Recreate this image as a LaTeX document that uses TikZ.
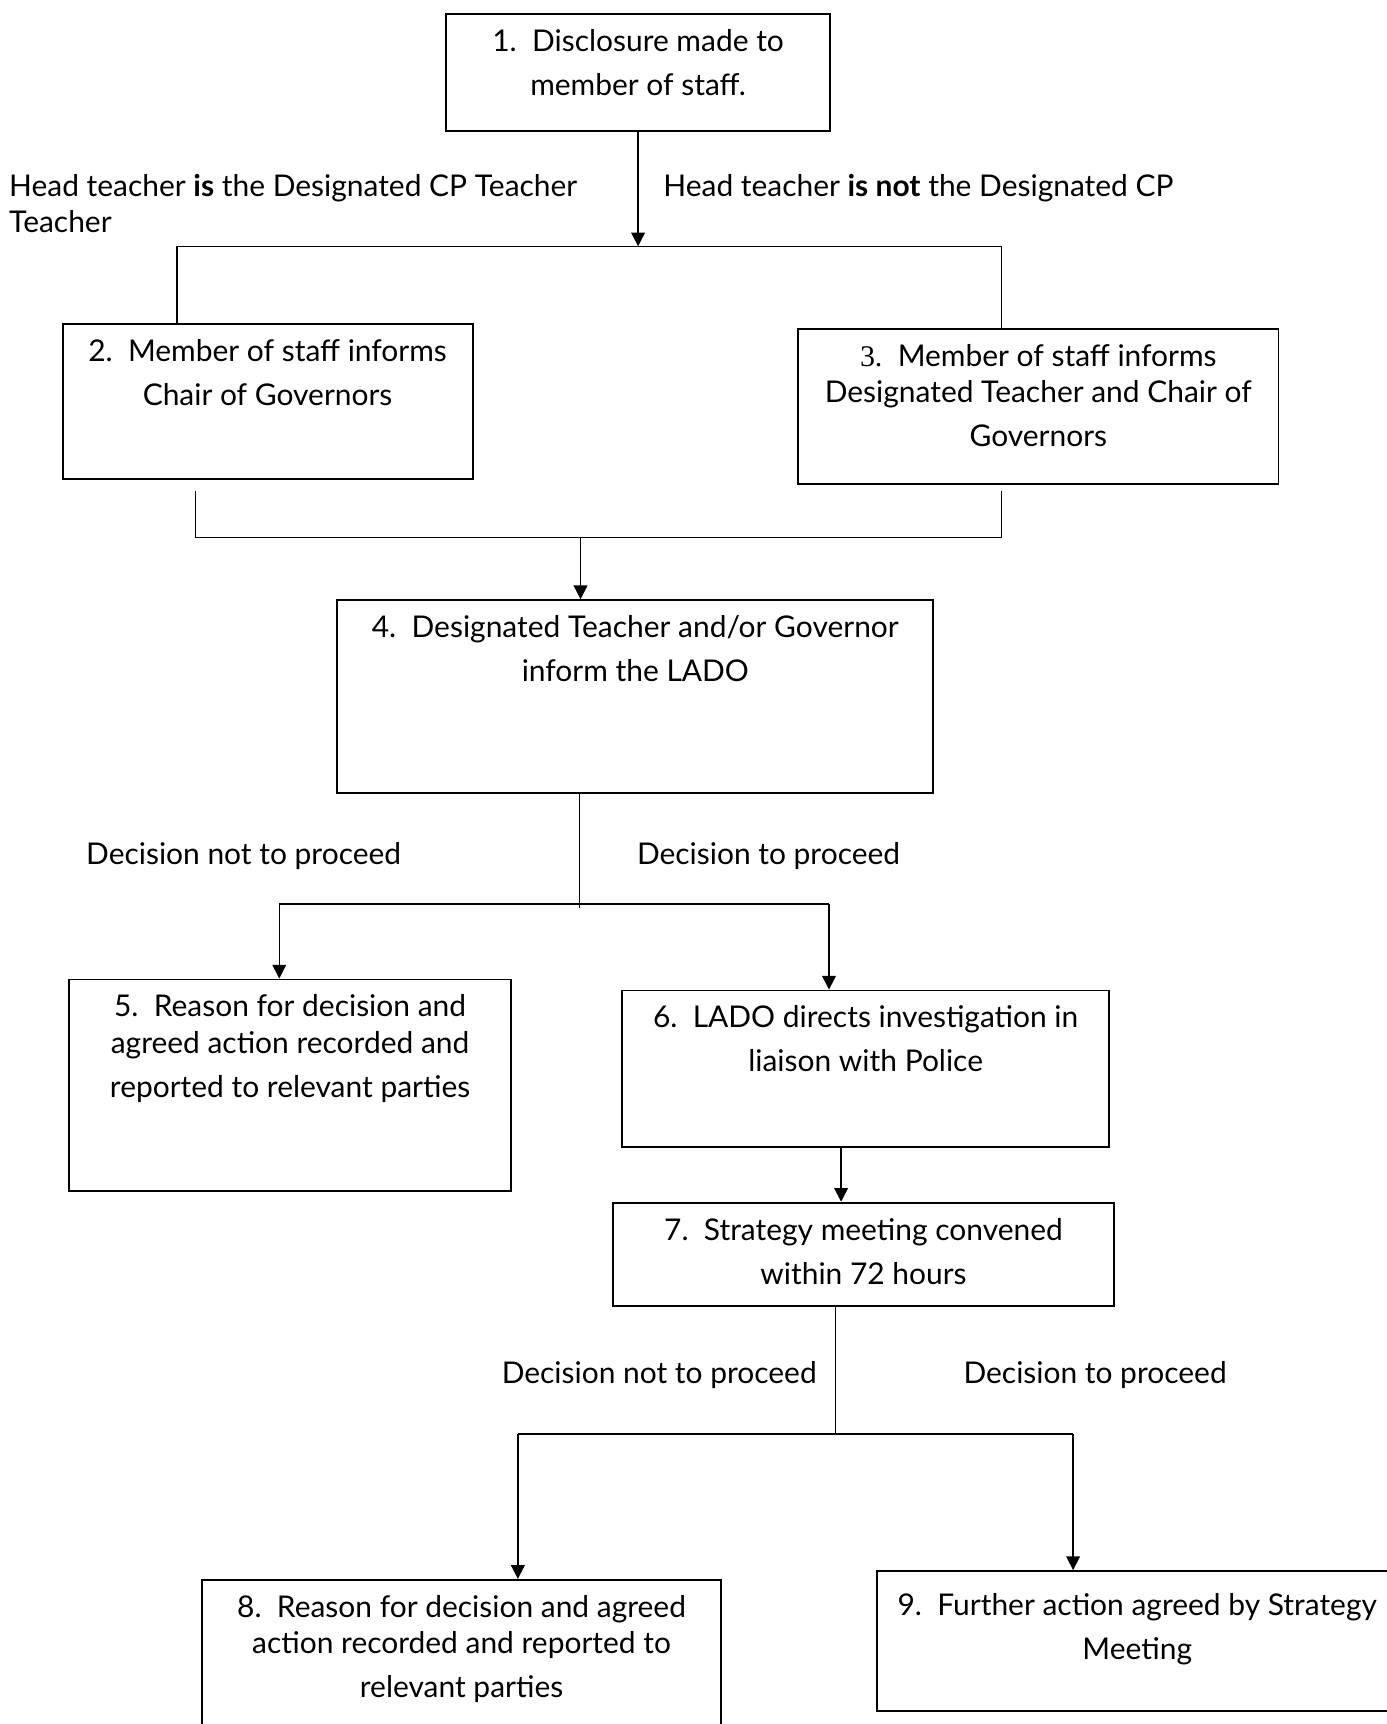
\documentclass[tikz,border=0pt]{standalone}
\usepackage{fontspec}
\setmainfont{Lato}
\newfontfamily\numfont{Liberation Serif}
\usetikzlibrary{positioning}
\usetikzlibrary{arrows.meta}
\newcommand{\flowfont}{\fontsize{15.5pt}{22.8pt}\selectfont}

\begin{document}
\begin{tikzpicture}[
    x = 0.02cm, y = -0.02cm
    , box/.style = {
      , rectangle
      , draw = black
      , line width = 1pt
      , anchor = north west
      , inner sep = 0pt
    }
    , txt/.style = {
      , align = center
      , inner sep = 0pt
      , font = \flowfont
    }
    , lbl/.style = {
      , align = left
      , inner sep = 0pt
      , anchor = north west
      , font = \flowfont
    }
    , link/.style = {
      , draw = black
      , line width = 0.8pt
    }
    , arr/.style = {
      link,
      -{Triangle[length=0.25cm, width=0.25cm]}
    }
    , node distance = 0.29cm
    ]
    \useasboundingbox (0,0) rectangle (1261,1568);

    % boxes
    \node[box, minimum width=6.98cm, minimum height=2.12cm] (b1) at (405,12) {};
    \node[box, minimum width=7.46cm, minimum height=2.82cm] (b2) at (56,294) {};
    \node[box, minimum width=8.74cm, minimum height=2.82cm] (b3) at (725,298) {};
    \node[box, minimum width=10.84cm, minimum height=3.50cm] (b4) at (306,545) {};
    \node[box, minimum width=8.04cm, minimum height=3.84cm] (b5) at (62,890) {};
    \node[box, minimum width=8.86cm, minimum height=2.84cm] (b6) at (565,900) {};
    \node[box, minimum width=9.10cm, minimum height=1.88cm] (b7) at (557,1093) {};
    \node[box, minimum width=9.44cm, minimum height=3.20cm] (b8) at (183,1436) {};
    \node[box, minimum width=9.46cm, minimum height=2.54cm] (b9) at (797,1428) {};

    \node[txt, below=of b1.north] (t1) {1.\ \ Disclosure made to\\member of staff.};
    \node[txt, below=of b2.north] (t2) {2.\ \ Member of staff informs\\Chair of Governors};
    \node[txt, below=of b3.north] (t3) {{\numfont 3.}\ \ Member of staff informs\\[-0.14cm]Designated Teacher and Chair of\\Governors};
    \node[txt, below=of b4.north] (t4) {4.\ \ Designated Teacher and/or Governor\\inform the LADO};
    \node[txt, below=of b5.north] (t5) {5.\ \ Reason for decision and\\[-0.14cm]agreed action recorded and\\reported to relevant parties};
    \node[txt, below=of b6.north] (t6) {6.\ \ LADO directs investigation in\\liaison with Police};
    \node[txt, below=of b7.north] (t7) {7.\ \ Strategy meeting convened\\within 72 hours};
    \node[txt, below=of b8.north] (t8) {8.\ \ Reason for decision and agreed\\[-0.14cm]action recorded and reported to\\relevant parties};
    \node[txt, below=0.41cm of b9.north] (t9) {9.\ \ Further action agreed by Strategy\\Meeting};

    % branch labels
    \node[lbl] (l1) at (8,158) {Head teacher \textbf{is} the Designated CP Teacher\\[-0.14cm]Teacher};
    \node[lbl] (l2) at (603,158) {Head teacher \textbf{is not} the Designated CP};
    \node[lbl] (l3) at (78,766) {Decision not to proceed};
    \node[lbl] (l4) at (579,766) {Decision to proceed};
    \node[lbl] (l5) at (456,1238) {Decision not to proceed};
    \node[lbl] (l6) at (876,1238) {Decision to proceed};

    % junctions
    \coordinate (j1l) at (161,224);
    \coordinate (j1r) at (911,224);
    \coordinate (s2) at (178,447);
    \coordinate (s3) at (911,447);
    \coordinate (j2l) at (178,489);
    \coordinate (j2r) at (911,489);
    \coordinate (j2) at (528,489);
    \coordinate (j3) at (527,826);
    \coordinate (j3l) at (254,822);
    \coordinate (j3r) at (754,822);
    \coordinate (j4) at (765,1042);
    \coordinate (j5) at (760,1304);
    \coordinate (j5l) at (471,1304);
    \coordinate (j5r) at (976,1304);

    \draw[arr] (b1.south) -- (b1.south |- j1l);
    \draw[link] (j1l |- b2.north) -- (j1l) -- (j1r) -- (j1r |- b3.north);

    \draw[link] (s2) -- (j2l) -- (j2r) -- (s3);
    \draw[arr] (j2) -- (j2 |- b4.north);

    \draw[link] (b4.south -| j3) -- (j3);
    \draw[link] (j3l) -- (j3r);
    \draw[arr] (j3l) -- (j3l |- b5.north);
    \draw[arr] (j3r) -- (j3r |- b6.north);

    \draw[arr] (j4 |- b6.south) -- (j4 |- b7.north);

    \draw[link] (b7.south -| j5) -- (j5);
    \draw[link] (j5l) -- (j5r);
    \draw[arr] (j5l) -- (j5l |- b8.north);
    \draw[arr] (j5r) -- (j5r |- b9.north);
\end{tikzpicture}
\end{document}
